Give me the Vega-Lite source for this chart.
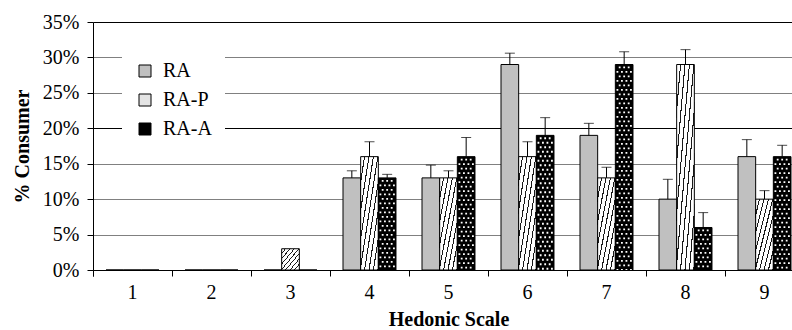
{
  "$schema": "https://vega.github.io/schema/vega-lite/v6.json",
  "autosize": {"type": "none"},
  "padding": {"left": 93, "top": 22, "right": 0, "bottom": 60},
  "width": 699,
  "height": 248,
  "background": "white",
  "config": {
    "view": {"stroke": null},
    "font": "Liberation Serif"
  },
  "data": {
    "values": [
      {"h": "1", "s": "RA", "v": 0, "hi": null},
      {"h": "1", "s": "RA-P", "v": 0, "hi": null},
      {"h": "1", "s": "RA-A", "v": 0, "hi": null},
      {"h": "2", "s": "RA", "v": 0, "hi": null},
      {"h": "2", "s": "RA-P", "v": 0, "hi": null},
      {"h": "2", "s": "RA-A", "v": 0, "hi": null},
      {"h": "3", "s": "RA", "v": 0, "hi": null},
      {"h": "3", "s": "RA-P", "v": 3, "hi": null},
      {"h": "3", "s": "RA-A", "v": 0, "hi": null},
      {"h": "4", "s": "RA", "v": 13, "hi": 14.0},
      {"h": "4", "s": "RA-P", "v": 16, "hi": 18.1},
      {"h": "4", "s": "RA-A", "v": 13, "hi": 13.5},
      {"h": "5", "s": "RA", "v": 13, "hi": 14.8},
      {"h": "5", "s": "RA-P", "v": 13, "hi": 14.0},
      {"h": "5", "s": "RA-A", "v": 16, "hi": 18.7},
      {"h": "6", "s": "RA", "v": 29, "hi": 30.6},
      {"h": "6", "s": "RA-P", "v": 16, "hi": 18.1},
      {"h": "6", "s": "RA-A", "v": 19, "hi": 21.5},
      {"h": "7", "s": "RA", "v": 19, "hi": 20.7},
      {"h": "7", "s": "RA-P", "v": 13, "hi": 14.5},
      {"h": "7", "s": "RA-A", "v": 29, "hi": 30.8},
      {"h": "8", "s": "RA", "v": 10, "hi": 12.8},
      {"h": "8", "s": "RA-P", "v": 29, "hi": 31.1},
      {"h": "8", "s": "RA-A", "v": 6, "hi": 8.1},
      {"h": "9", "s": "RA", "v": 16, "hi": 18.4},
      {"h": "9", "s": "RA-P", "v": 10, "hi": 11.2},
      {"h": "9", "s": "RA-A", "v": 16, "hi": 17.6}
    ]
  },
  "encoding": {
    "x": {
      "field": "h", "type": "ordinal",
      "scale": {"range": [0, 711], "paddingInner": 0, "paddingOuter": 0},
      "axis": {
        "bandPosition": 0, "tickExtra": true, "tickSize": 6, "tickColor": "black", "domainColor": "black",
        "labelFont": "Liberation Serif", "labelFontSize": 20, "labelColor": "black", "labelPadding": 6, "labelAngle": 0,
        "title": "Hedonic Scale", "titleFont": "Liberation Serif", "titleFontSize": 20, "titleFontWeight": "bold", "titleColor": "black", "titlePadding": 7,
        "grid": false
      }
    },
    "y": {
      "field": "v", "type": "quantitative",
      "scale": {"domain": [0, 35], "nice": false},
      "axis": {
        "values": [0, 5, 10, 15, 20, 25, 30, 35],
        "labelExpr": "datum.value + '%'",
        "tickSize": 6, "tickColor": "black", "domainColor": "black",
        "labelFont": "Liberation Serif", "labelFontSize": 20, "labelColor": "black", "labelPadding": 8,
        "title": "% Consumer", "titleFont": "Liberation Serif", "titleFontSize": 20, "titleFontWeight": "bold", "titleColor": "black", "titlePadding": 10,
        "grid": true,
        "gridColor": {"condition": {"test": "datum.value === 35 || datum.value === 20", "value": "black"}, "value": "#808080"}
      }
    }
  },
  "layer": [
    {
      "mark": {"type": "bar", "stroke": "black", "strokeWidth": 1},
      "encoding": {
        "xOffset": {
          "field": "s", "type": "nominal",
          "scale": {"domain": ["RA", "RA-P", "RA-A"], "paddingInner": 0, "paddingOuter": 0.736}
        },
        "fill": {
          "field": "s", "type": "nominal",
          "scale": {"domain": ["RA", "RA-P", "RA-A"], "range": ["#c0c0c0", "#e4e4e4", "#000000"]},
          "condition": {
            "test": "datum.s === 'RA-P'",
            "value": {
              "gradient": "linear", "x1": 0, "y1": 0, "x2": 1, "y2": 1,
              "stops": [
                {"offset": 0, "color": "white"}, {"offset": 0.095, "color": "white"}, {"offset": 0.095, "color": "#1a1a1a"}, {"offset": 0.125, "color": "#1a1a1a"},
                {"offset": 0.125, "color": "white"}, {"offset": 0.22, "color": "white"}, {"offset": 0.22, "color": "#1a1a1a"}, {"offset": 0.25, "color": "#1a1a1a"},
                {"offset": 0.25, "color": "white"}, {"offset": 0.345, "color": "white"}, {"offset": 0.345, "color": "#1a1a1a"}, {"offset": 0.375, "color": "#1a1a1a"},
                {"offset": 0.375, "color": "white"}, {"offset": 0.47, "color": "white"}, {"offset": 0.47, "color": "#1a1a1a"}, {"offset": 0.5, "color": "#1a1a1a"},
                {"offset": 0.5, "color": "white"}, {"offset": 0.595, "color": "white"}, {"offset": 0.595, "color": "#1a1a1a"}, {"offset": 0.625, "color": "#1a1a1a"},
                {"offset": 0.625, "color": "white"}, {"offset": 0.72, "color": "white"}, {"offset": 0.72, "color": "#1a1a1a"}, {"offset": 0.75, "color": "#1a1a1a"},
                {"offset": 0.75, "color": "white"}, {"offset": 0.845, "color": "white"}, {"offset": 0.845, "color": "#1a1a1a"}, {"offset": 0.875, "color": "#1a1a1a"},
                {"offset": 0.875, "color": "white"}, {"offset": 0.97, "color": "white"}, {"offset": 0.97, "color": "#1a1a1a"}, {"offset": 1, "color": "#1a1a1a"}
              ]
            }
          },
          "legend": {
            "orient": "none", "legendX": 29, "legendY": 26, "padding": 13,
            "fillColor": "white", "strokeColor": null, "title": null,
            "symbolType": "square", "symbolSize": 144, "symbolStrokeColor": "black", "symbolStrokeWidth": 1,
            "labelFont": "Liberation Serif", "labelFontSize": 20, "labelColor": "black", "labelOffset": 8, "rowPadding": 9,
            "encode": {
              "symbols": {
                "update": {
                  "stroke": {"value": "black"},
                  "strokeWidth": {"value": 1}
                }
              }
            }
          }
        }
      }
    },
    {
      "transform": [{"filter": "datum.s === 'RA-A' && datum.v > 0"}],
      "mark": {"type": "rule", "stroke": "white", "strokeWidth": 1.8, "strokeDash": [1.8, 7.2], "strokeDashOffset": 7, "xOffset": 13.17},
      "encoding": {"y2": {"datum": 0}}
    },
    {
      "transform": [{"filter": "datum.s === 'RA-A' && datum.v > 0"}],
      "mark": {"type": "rule", "stroke": "white", "strokeWidth": 1.8, "strokeDash": [1.8, 7.2], "strokeDashOffset": 7, "xOffset": 17.67},
      "encoding": {"y2": {"datum": 0}}
    },
    {
      "transform": [{"filter": "datum.s === 'RA-A' && datum.v > 0"}],
      "mark": {"type": "rule", "stroke": "white", "strokeWidth": 1.8, "strokeDash": [1.8, 7.2], "strokeDashOffset": 7, "xOffset": 22.17},
      "encoding": {"y2": {"datum": 0}}
    },
    {
      "transform": [{"filter": "datum.s === 'RA-A' && datum.v > 0"}],
      "mark": {"type": "rule", "stroke": "white", "strokeWidth": 1.8, "strokeDash": [1.8, 7.2], "strokeDashOffset": 2.5, "xOffset": 10.92},
      "encoding": {"y2": {"datum": 0}}
    },
    {
      "transform": [{"filter": "datum.s === 'RA-A' && datum.v > 0"}],
      "mark": {"type": "rule", "stroke": "white", "strokeWidth": 1.8, "strokeDash": [1.8, 7.2], "strokeDashOffset": 2.5, "xOffset": 15.42},
      "encoding": {"y2": {"datum": 0}}
    },
    {
      "transform": [{"filter": "datum.s === 'RA-A' && datum.v > 0"}],
      "mark": {"type": "rule", "stroke": "white", "strokeWidth": 1.8, "strokeDash": [1.8, 7.2], "strokeDashOffset": 2.5, "xOffset": 19.92},
      "encoding": {"y2": {"datum": 0}}
    },
    {
      "transform": [{"filter": "datum.s === 'RA-A' && datum.v > 0"}],
      "mark": {"type": "rule", "stroke": "white", "strokeWidth": 1.8, "strokeDash": [1.8, 7.2], "strokeDashOffset": 2.5, "xOffset": 24.42},
      "encoding": {"y2": {"datum": 0}}
    },
    {
      "transform": [{"filter": "datum.hi != null"}],
      "mark": {"type": "rule", "stroke": "black", "strokeWidth": 1},
      "encoding": {
        "xOffset": {"field": "s", "type": "nominal"},
        "y2": {"field": "hi"}
      }
    },
    {
      "transform": [{"filter": "datum.hi != null"}],
      "mark": {"type": "tick", "orient": "horizontal", "color": "black", "size": 10, "thickness": 1},
      "encoding": {
        "xOffset": {"field": "s", "type": "nominal"},
        "y": {"field": "hi", "type": "quantitative"}
      }
    }
  ]
}
